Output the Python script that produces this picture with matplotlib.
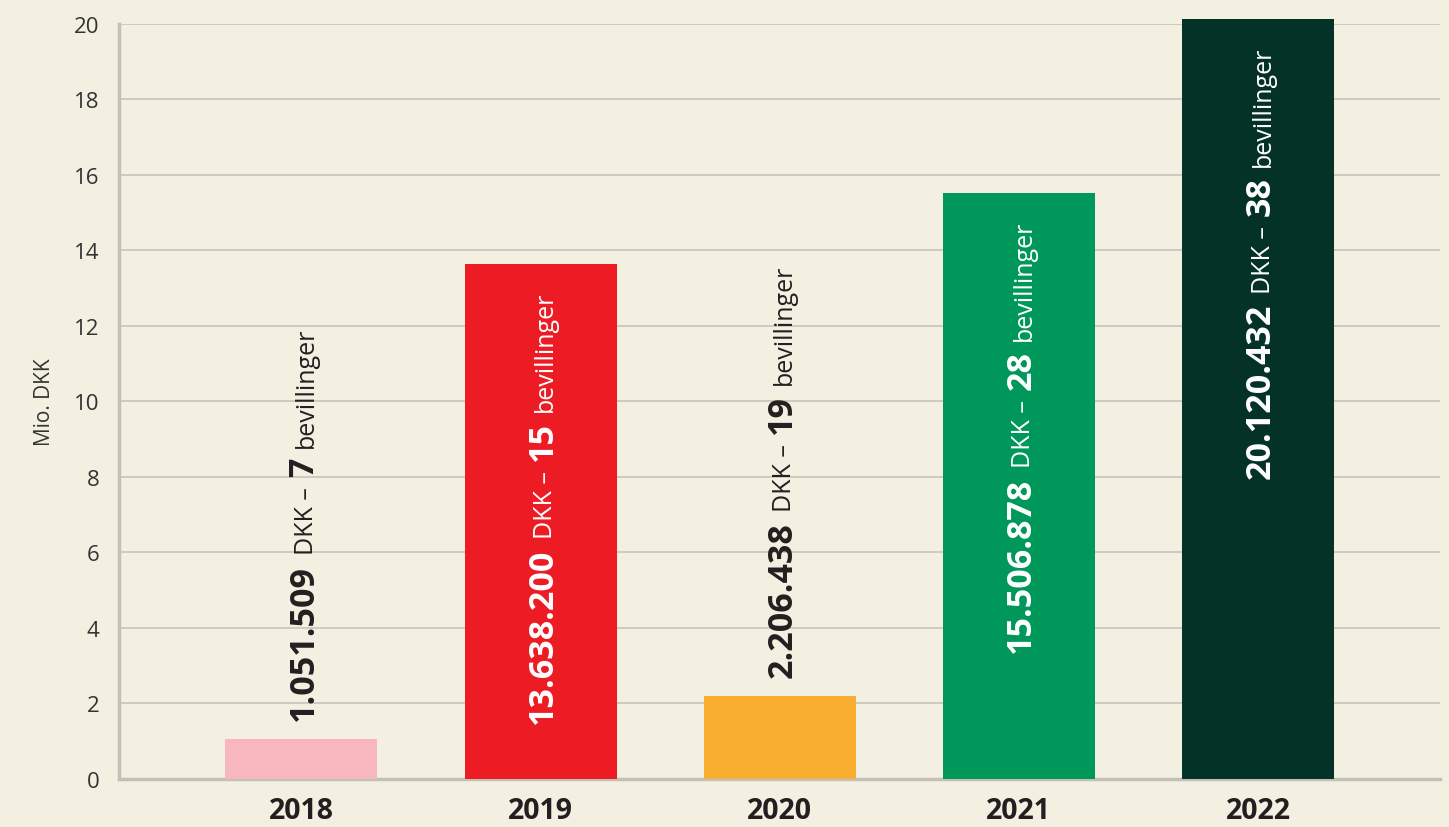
import matplotlib
matplotlib.use('Agg')
import matplotlib.pyplot as plt
from matplotlib.transforms import offset_copy

plt.rcParams['font.family'] = ['Open Sans', 'DejaVu Sans']

years = ['2018', '2019', '2020', '2021', '2022']
amounts = [1.051509, 13.6382, 2.206438, 15.506878, 20.120432]
amount_labels = ['1.051.509', '13.638.200', '2.206.438', '15.506.878', '20.120.432']
grants = ['7', '15', '19', '28', '38']
colors = ['#f8b7bd', '#ed1c24', '#f9ad31', '#00985a', '#053226']
inside = [False, True, False, True, True]

bg = '#f3efe1'
dark = '#231f20'

fig = plt.figure(figsize=(14.49, 8.28), dpi=100, facecolor=bg)
ax = fig.add_axes([0.0821, 0.058, 0.9117, 0.9124])
ax.set_facecolor(bg)

x = list(range(len(years)))
ax.bar(x, amounts, width=0.636, color=colors, zorder=3, clip_on=False)

ax.set_xlim(-0.763, 4.761)
ax.set_ylim(0, 20)
ax.set_yticks(range(0, 21, 2))
ax.yaxis.grid(True, color='#cbc9bf', linewidth=1.3, zorder=0)
ax.set_axisbelow(True)
ax.set_xticks(x)
ax.set_xticklabels(years, fontsize=20.5, fontweight='bold', color=dark)
ax.tick_params(axis='x', length=0, pad=12)
ax.tick_params(axis='y', length=0, pad=14, labelsize=16, labelcolor='#333333')
ax.set_ylabel('Mio. DKK', fontsize=15, color='#333333', labelpad=14)

for s in ['top', 'right']:
    ax.spines[s].set_visible(False)
ax.spines['left'].set_color('#c2c1b8')
ax.spines['left'].set_linewidth(2.5)
ax.spines['bottom'].set_color('#c2c1b8')
ax.spines['bottom'].set_linewidth(2.5)

renderer = fig.canvas.get_renderer()
gaps = [10, 10, 10, 0]

for i in x:
    pieces = [(amount_labels[i], 'bold', 24.5), ('DKK –', 'normal', 18),
              (grants[i], 'bold', 24.5), ('bevillinger', 'normal', 18)]
    col = 'white' if inside[i] else dark
    anchor_y = ax.transData.transform((i, amounts[i]))[1]
    texts = []
    offsets = []
    pos = 0
    # stack the pieces along the rotated direction, measuring each one
    for (txt, w, fs), g in zip(pieces, gaps):
        t = ax.text(i, amounts[i], txt, fontsize=fs, fontweight=w, color=col,
                    rotation=90, rotation_mode='anchor', ha='left', va='baseline',
                    transform=offset_copy(ax.transData, fig=fig, x=11.5, y=pos, units='dots'),
                    zorder=4)
        ext = t.get_window_extent(renderer)
        texts.append(t)
        offsets.append(pos)
        pos = round(ext.y1 - anchor_y + g)
    first_bottom = texts[0].get_window_extent(renderer).y0 - anchor_y
    last_top = texts[-1].get_window_extent(renderer).y1 - anchor_y
    if inside[i]:
        shift = round(-27 - last_top)
    else:
        shift = round(19 - first_bottom)
    for t, p in zip(texts, offsets):
        t.set_transform(offset_copy(ax.transData, fig=fig, x=11.5, y=p + shift, units='dots'))

fig.savefig('out.png', dpi=100, facecolor=bg)
